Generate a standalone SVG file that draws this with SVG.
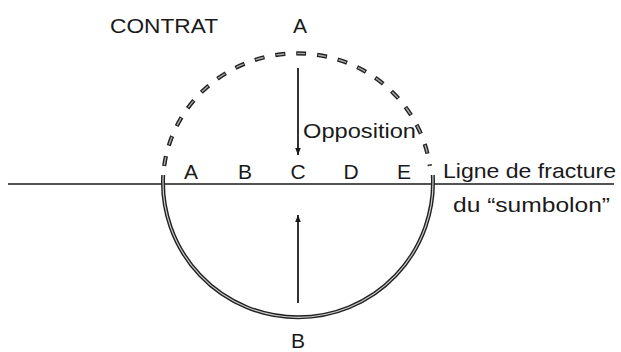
<svg xmlns="http://www.w3.org/2000/svg" width="621" height="352" viewBox="0 0 621 352">
<style>
text{font-family:"Liberation Sans","DejaVu Sans",sans-serif;font-size:21px;fill:#1a1a1a}
.mid{text-anchor:middle}
.ln{stroke:#1a1a1a;fill:none}
</style>
<defs>
<marker id="ah" markerWidth="8" markerHeight="12" refX="7" refY="4" orient="auto" markerUnits="userSpaceOnUse">
<path d="M0,1.2 L7,4 L0,6.8 Z" fill="#1a1a1a"/>
</marker>
</defs>
<rect width="621" height="352" fill="#fff"/>
<g id="fracture-line"><line class="ln" x1="8" y1="184" x2="614" y2="184" stroke-width="1.6"/></g>
<g id="lower-half">
<path d="M163.2,175 A135,135 0 1 0 432.8,175" fill="none" stroke="#222" stroke-width="4"/>
<path d="M163.2,175 A135,135 0 1 0 432.8,175" fill="none" stroke="#ccc" stroke-width="1.2"/>
</g>
<g id="upper-half">
<path d="M164.2,166 A134,130 0 0 1 429.8,166" fill="none" stroke="#222" stroke-width="4.2" stroke-dasharray="10 11"/>
<path d="M164.2,166 A134,130 0 0 1 429.8,166" fill="none" stroke="#aaa" stroke-width="1.4" stroke-dasharray="8 13" stroke-dashoffset="-1"/>
</g>
<g id="connectors">
<line class="ln" x1="298" y1="68" x2="298" y2="155" stroke-width="1.8" marker-end="url(#ah)"/>
<line class="ln" x1="298" y1="303" x2="298" y2="215" stroke-width="1.8" marker-end="url(#ah)"/>
</g>
<g id="labels">
<text x="110" y="33" textLength="108" lengthAdjust="spacingAndGlyphs">CONTRAT</text>
<text class="mid" x="300" y="33">A</text>
<text x="303" y="138" textLength="113" lengthAdjust="spacingAndGlyphs">Opposition</text>
<text class="mid" x="191" y="179">A</text>
<text class="mid" x="245" y="179">B</text>
<text class="mid" x="298" y="179">C</text>
<text class="mid" x="351" y="179">D</text>
<text class="mid" x="404" y="179">E</text>
<text x="443" y="178" textLength="173" lengthAdjust="spacingAndGlyphs">Ligne de fracture</text>
<text x="453" y="212" textLength="157" lengthAdjust="spacingAndGlyphs">du “sumbolon”</text>
<text class="mid" x="298" y="348">B</text>
</g>
</svg>
